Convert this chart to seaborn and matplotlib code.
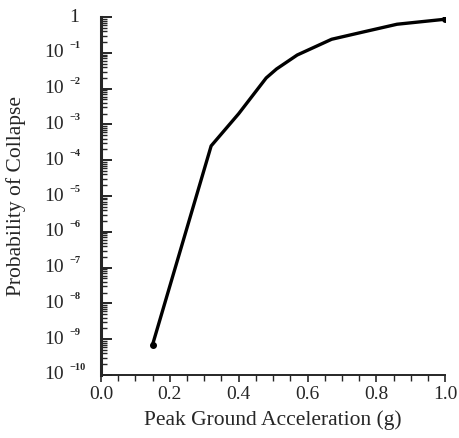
import numpy as np
import pandas as pd
import seaborn as sns
import matplotlib.pyplot as plt
import matplotlib.transforms as mtrans
from matplotlib.ticker import LogLocator, FixedLocator, MultipleLocator, FuncFormatter, NullFormatter

# peak ground acceleration (g) and log10 of collapse probability
pga = [0.15, 0.32, 0.36, 0.40, 0.48, 0.51, 0.57, 0.67, 0.76, 0.86, 1.0]
log_p = [-9.15, -3.6, -3.15, -2.7, -1.7, -1.45, -1.06, -0.62, -0.42, -0.2, -0.06]
exponents = list(range(-10, 1))

df = pd.DataFrame({"pga": pga, "p": [10.0 ** v for v in log_p]})

sns.set_style("ticks")
plt.rcParams["font.family"] = ["Liberation Serif", "DejaVu Serif"]

fig = plt.figure(figsize=(4.59, 4.38), dpi=100)
ax = fig.add_axes([0.22, 0.144, 0.750, 0.817])

sns.lineplot(data=df, x="pga", y="p", ax=ax, color="black", linewidth=2.4)
ax.plot([pga[0], pga[-1]], [10.0 ** log_p[0], 10.0 ** log_p[-1]], "o",
        color="black", markersize=4)

ax.set_yscale("log")
ax.set_xlim(0, 1.0)
ax.set_ylim(1e-10, 1)

ax.yaxis.set_major_locator(FixedLocator([10.0 ** e for e in exponents]))
ax.yaxis.set_major_formatter(NullFormatter())
ax.yaxis.set_minor_locator(LogLocator(base=10, subs=np.arange(2, 10), numticks=20))
ax.yaxis.set_minor_formatter(NullFormatter())
ax.tick_params(axis="y", which="major", direction="in", length=8, width=1.4)
ax.tick_params(axis="y", which="minor", direction="in", length=4, width=1.0)

# y tick labels as "10" with a small, detached exponent
tr = mtrans.blended_transform_factory(ax.transAxes, ax.transData)
for e in exponents:
    v = 10.0 ** e
    if e == 0:
        ax.text(-0.064, v, "1", transform=tr, ha="right", va="center",
                fontsize=14)
        continue
    ax.text(-0.107, v, "10", transform=tr, ha="right", va="center", fontsize=14)
    sup = mtrans.offset_copy(tr, fig=fig, y=5, units="points")
    ax.text(-0.093, v, "\u2212%d" % (-e), transform=sup, ha="left",
            va="center", fontsize=7.5, fontweight="bold")

ax.xaxis.set_major_locator(MultipleLocator(0.2))
ax.xaxis.set_minor_locator(MultipleLocator(0.05))
ax.xaxis.set_major_formatter(FuncFormatter(lambda v, p: "%.1f" % v))
ax.tick_params(axis="x", which="major", direction="out", length=5, width=1.2,
               labelsize=14, pad=3)
ax.tick_params(axis="x", which="minor", direction="out", length=4, width=1.0)

for s in ["top", "right"]:
    ax.spines[s].set_visible(False)
ax.spines["left"].set_linewidth(2.2)
ax.spines["bottom"].set_linewidth(1.4)

ax.set_xlabel("Peak Ground Acceleration (g)", fontsize=15.5, labelpad=5)
ax.set_ylabel("Probability of Collapse", fontsize=15.5)
ax.yaxis.set_label_coords(-0.217, 0.5)

fig.savefig("out.png", dpi=100)
